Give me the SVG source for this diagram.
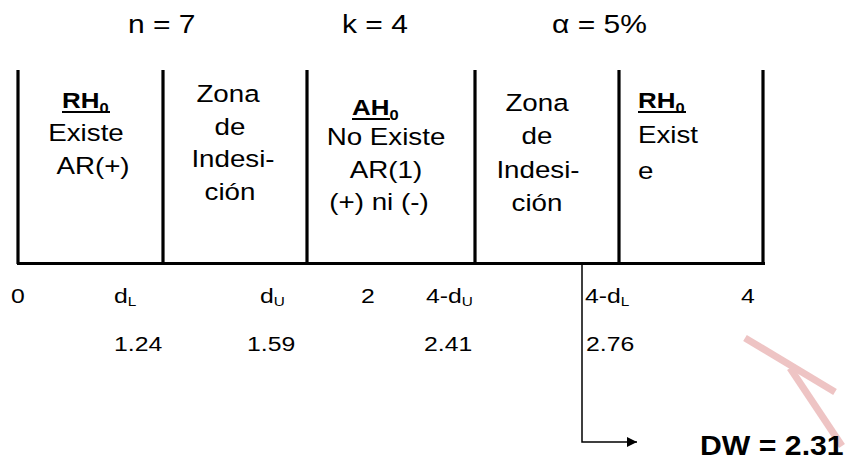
<svg xmlns="http://www.w3.org/2000/svg" width="850" height="461" viewBox="0 0 850 461">
  <style>
    text { font-family: "Liberation Sans", Arial, sans-serif; fill: #000; }
    .hdr { font-size: 25px; }
    .box { font-size: 23.5px; }
    .mid { text-anchor: middle; }
    .key { font-size: 22px; font-weight: bold; }
    .sub0 { font-size: 14px; font-weight: bold; }
    .axis { font-size: 21px; }
    .sub { font-size: 13px; }
    .res { font-size: 27px; font-weight: bold; }
    .divider { stroke: #000; stroke-width: 3.2; fill: none; }
    .uline { stroke: #000; stroke-width: 2; }
    .pointer { stroke: #000; stroke-width: 1.5; fill: none; }
    .mark { stroke: #eec4c4; stroke-width: 7; fill: none; stroke-linejoin: miter; }
  </style>
  <defs>
    <marker id="head" viewBox="0 0 10 10" refX="10" refY="5" markerWidth="10" markerHeight="10" markerUnits="userSpaceOnUse" orient="auto">
      <path d="M0,0 L10,5 L0,10 Z" fill="#000"/>
    </marker>
  </defs>
  <rect width="850" height="461" fill="#fff"/>

  <!-- parameters -->
  <g id="params" class="hdr">
    <text transform="translate(128 33) scale(1.2 1)">n = 7</text>
    <text transform="translate(342 33) scale(1.2 1)">k = 4</text>
    <text transform="translate(552 33) scale(1.2 1)">α = 5%</text>
  </g>

  <!-- decision scale frame -->
  <g id="frame">
    <line class="divider" x1="18" y1="70" x2="18" y2="264"/>
    <line class="divider" x1="163" y1="70" x2="163" y2="264"/>
    <line class="divider" x1="307" y1="70" x2="307" y2="264"/>
    <line class="divider" x1="475" y1="70" x2="475" y2="264"/>
    <line class="divider" x1="619" y1="70" x2="619" y2="264"/>
    <line class="divider" x1="763" y1="70" x2="763" y2="264"/>
    <line class="divider" x1="17" y1="263.5" x2="765" y2="263.5" stroke-width="3.6"/>
  </g>

  <!-- zone 1: reject H0, positive autocorrelation -->
  <g id="zone-reject-left">
    <text class="key" transform="translate(62 108) scale(1.18 1)">RH<tspan class="sub0" dy="5">0</tspan></text>
    <line class="uline" x1="62" y1="112" x2="110" y2="112"/>
    <text class="box mid" transform="translate(86 141) scale(1.18 1)">Existe</text>
    <text class="box mid" transform="translate(93 174) scale(1.18 1)">AR(+)</text>
  </g>

  <!-- zone 2: indecision -->
  <g id="zone-indecision-left">
    <text class="box mid" transform="translate(228 102) scale(1.18 1)">Zona</text>
    <text class="box mid" transform="translate(230 135) scale(1.18 1)">de</text>
    <text class="box mid" transform="translate(233 167) scale(1.18 1)">Indesi-</text>
    <text class="box mid" transform="translate(230 200) scale(1.18 1)">ción</text>
  </g>

  <!-- zone 3: accept H0 -->
  <g id="zone-accept">
    <text class="key" transform="translate(352 115) scale(1.18 1)">AH<tspan class="sub0" dy="5">0</tspan></text>
    <line class="uline" x1="352" y1="119" x2="390" y2="119"/>
    <text class="box mid" transform="translate(386 145) scale(1.18 1)">No Existe</text>
    <text class="box mid" transform="translate(386 178) scale(1.18 1)">AR(1)</text>
    <text class="box mid" transform="translate(379 210) scale(1.18 1)">(+) ni (-)</text>
  </g>

  <!-- zone 4: indecision -->
  <g id="zone-indecision-right">
    <text class="box mid" transform="translate(537 111) scale(1.18 1)">Zona</text>
    <text class="box mid" transform="translate(537 144) scale(1.18 1)">de</text>
    <text class="box mid" transform="translate(538 178) scale(1.18 1)">Indesi-</text>
    <text class="box mid" transform="translate(537 211) scale(1.18 1)">ción</text>
  </g>

  <!-- zone 5: reject H0 -->
  <g id="zone-reject-right">
    <text class="key" transform="translate(638 108) scale(1.18 1)">RH<tspan class="sub0" dy="5">0</tspan></text>
    <line class="uline" x1="638" y1="112" x2="686" y2="112"/>
    <text class="box" transform="translate(638 143) scale(1.18 1)">Exist</text>
    <text class="box" transform="translate(638 179) scale(1.18 1)">e</text>
  </g>

  <!-- axis labels -->
  <g id="axis-labels" class="axis">
    <text transform="translate(11 303) scale(1.18 1)">0</text>
    <text transform="translate(114 303) scale(1.18 1)">d<tspan class="sub" dy="3">L</tspan></text>
    <text transform="translate(260 303) scale(1.18 1)">d<tspan class="sub" dy="3">U</tspan></text>
    <text transform="translate(361 303) scale(1.18 1)">2</text>
    <text transform="translate(426 303) scale(1.18 1)">4-d<tspan class="sub" dy="3">U</tspan></text>
    <text transform="translate(585 303) scale(1.18 1)">4-d<tspan class="sub" dy="3">L</tspan></text>
    <text transform="translate(741 303) scale(1.18 1)">4</text>
  </g>

  <!-- critical values -->
  <g id="axis-values" class="axis">
    <text transform="translate(114 351) scale(1.18 1)">1.24</text>
    <text transform="translate(247 351) scale(1.18 1)">1.59</text>
    <text transform="translate(424 351) scale(1.18 1)">2.41</text>
    <text transform="translate(586 351) scale(1.18 1)">2.76</text>
  </g>

  <!-- faint stamp strokes -->
  <g id="stamp">
    <polyline class="mark" points="745,338 835,392"/>
    <polyline class="mark" points="790,368 842,446"/>
  </g>

  <!-- connectors -->
  <g id="connectors">
    <polyline class="pointer" points="582,262 582,442 637,442" marker-end="url(#head)"/>
  </g>

  <!-- statistic -->
  <g id="result">
    <text class="res" transform="translate(700 455) scale(1.12 1)">DW = 2.31</text>
  </g>
</svg>
